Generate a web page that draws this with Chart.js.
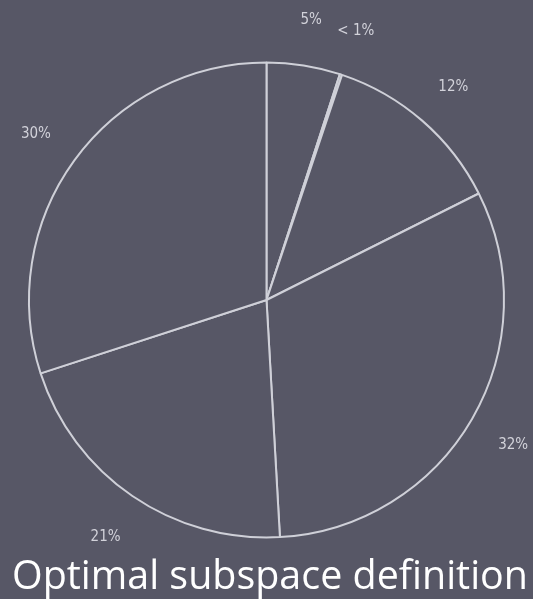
<!DOCTYPE html>
<html>
<head>
<meta charset="utf-8">
<script src="https://cdn.jsdelivr.net/npm/chart.js@4/dist/chart.umd.min.js"></script>
<style>
  html, body { margin: 0; padding: 0; background: #575766; }
  #wrap { position: relative; width: 533px; height: 599px; }
</style>
</head>
<body>
<div id="wrap"><canvas id="pie-chart" width="533" height="599"></canvas></div>
<script>
/* =========================================================
   DATA
========================================================= */

const sliceLabels = ["5%", "< 1%", "12%", "32%", "21%", "30%"];
const sliceValues = [5, 0.15, 12.45, 31.5, 20.9, 30];
const chartTitle = "Optimal subspace definition";

/* =========================================================
   STYLE
========================================================= */

const BG_COLOR = "#575766";
const LINE_COLOR = "#cfd0d8";
const LABEL_COLOR = "#d2d2da";
const TITLE_COLOR = "#ffffff";

/* =========================================================
   PLUGINS
========================================================= */

const backgroundPlugin = {
  id: "bg",
  beforeDraw(chart) {
    const { ctx, width, height } = chart;
    ctx.save();
    ctx.fillStyle = BG_COLOR;
    ctx.fillRect(0, 0, width, height);
    ctx.restore();
  }
};

// percentage labels sit just outside the rim, on each slice's middle angle
const sliceLabelPlugin = {
  id: "sliceLabels",
  afterDatasetsDraw(chart) {
    const { ctx } = chart;
    const arcs = chart.getDatasetMeta(0).data;

    ctx.save();
    ctx.fillStyle = LABEL_COLOR;
    ctx.font = "15px 'DejaVu Sans Condensed', 'DejaVu Sans', sans-serif";
    ctx.textAlign = "center";
    ctx.textBaseline = "middle";

    arcs.forEach((arc, i) => {
      const mid = (arc.startAngle + arc.endAngle) / 2;
      const r = arc.outerRadius * 1.2;
      ctx.fillText(sliceLabels[i], arc.x + Math.cos(mid) * r, arc.y + Math.sin(mid) * r + 2);
    });
    ctx.restore();
  }
};

const titlePlugin = {
  id: "bottomTitle",
  afterDraw(chart) {
    const { ctx } = chart;
    ctx.save();
    ctx.fillStyle = TITLE_COLOR;
    ctx.font = "40px 'Open Sans', sans-serif";
    ctx.textBaseline = "alphabetic";
    const w = ctx.measureText(chartTitle).width;
    const target = 516;
    ctx.translate(12, 589);
    ctx.scale(target / w, 1);
    ctx.fillText(chartTitle, 0, 0);
    ctx.restore();
  }
};

/* =========================================================
   CHART
========================================================= */

new Chart(document.getElementById("pie-chart"), {
  type: "pie",
  data: {
    labels: sliceLabels,
    datasets: [
      {
        data: sliceValues,
        backgroundColor: BG_COLOR,
        borderColor: LINE_COLOR,
        borderWidth: 2,
        borderAlign: "center"
      }
    ]
  },
  options: {
    responsive: false,
    animation: false,
    layout: {
      padding: { left: 28, right: 28, top: 61, bottom: 60 }
    },
    plugins: {
      legend: { display: false },
      tooltip: { enabled: false },
      title: { display: false }
    }
  },
  plugins: [backgroundPlugin, sliceLabelPlugin, titlePlugin]
});
</script>
</body>
</html>
